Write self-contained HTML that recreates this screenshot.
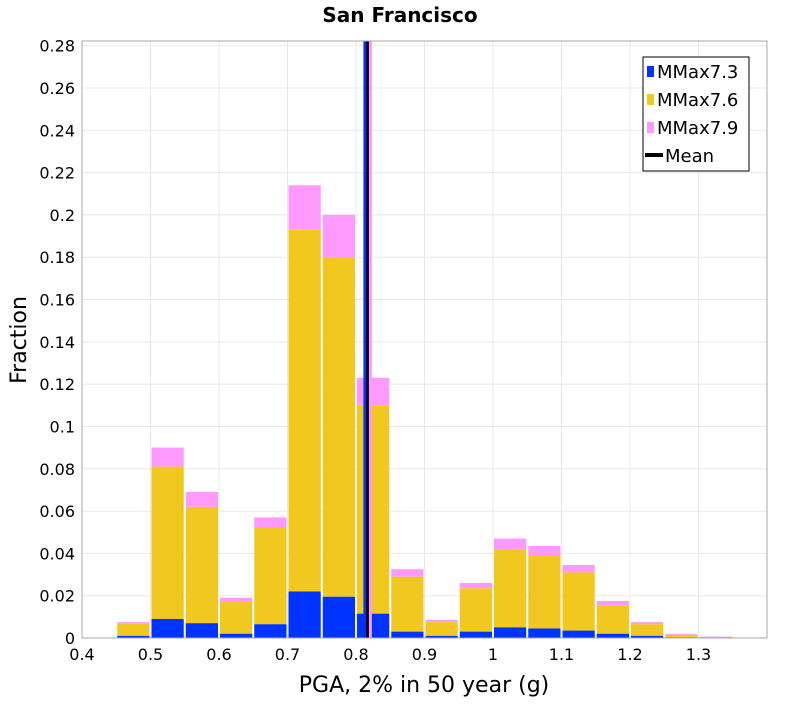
<!DOCTYPE html>
<html><head><meta charset="utf-8"><style>
body{margin:0;background:#fff;font-family:"DejaVu Sans","Liberation Sans",sans-serif;}
</style></head><body>
<svg id="chart" width="800" height="700" xmlns="http://www.w3.org/2000/svg">
<text x="400" y="22" text-anchor="middle" font-size="20" font-weight="bold" font-family="DejaVu Sans, Liberation Sans, sans-serif">San Francisco</text>
<g id="grid"></g><g id="bars"></g><g id="means"></g><g id="axes"></g>
<text x="26" y="340" transform="rotate(-90 26 340)" text-anchor="middle" font-size="22" font-family="DejaVu Sans, Liberation Sans, sans-serif">Fraction</text>
<text x="424" y="692" text-anchor="middle" font-size="22" font-family="DejaVu Sans, Liberation Sans, sans-serif">PGA, 2% in 50 year (g)</text>
<g>
<rect x="643" y="57" width="106" height="114" fill="#fff" stroke="#000" stroke-width="1"/>
<rect x="647" y="66" width="7" height="11" fill="#0033ff"/><text x="657" y="78" font-size="18" font-family="DejaVu Sans, Liberation Sans, sans-serif">MMax7.3</text>
<rect x="647" y="94" width="7" height="11" fill="#f0c820"/><text x="657" y="106" font-size="18" font-family="DejaVu Sans, Liberation Sans, sans-serif">MMax7.6</text>
<rect x="647" y="122" width="7" height="11" fill="#ff99ff"/><text x="657" y="134" font-size="18" font-family="DejaVu Sans, Liberation Sans, sans-serif">MMax7.9</text>
<rect x="645" y="153" width="18" height="4" fill="#000"/><text x="665" y="162" font-size="18" font-family="DejaVu Sans, Liberation Sans, sans-serif">Mean</text>
</g>
</svg>
<script>
const binStarts=[0.45,0.5,0.55,0.6,0.65,0.7,0.75,0.8,0.85,0.9,0.95,1.0,1.05,1.1,1.15,1.2,1.25,1.3];
const blueTop=[0.001,0.009,0.007,0.002,0.0065,0.022,0.0195,0.0115,0.003,0.001,0.003,0.005,0.0045,0.0035,0.002,0.001,0.0003,0.0002];
const yellowTop=[0.007,0.081,0.062,0.017,0.052,0.193,0.180,0.110,0.029,0.0075,0.0235,0.042,0.039,0.031,0.0155,0.0065,0.0015,0.0005];
const pinkTop=[0.0075,0.090,0.069,0.019,0.057,0.214,0.200,0.123,0.0325,0.0085,0.026,0.047,0.0435,0.0345,0.0175,0.0075,0.002,0.0007];
const meanValues=[0.813,0.817,0.821];
const xTicks=[0.4,0.5,0.6,0.7,0.8,0.9,1,1.1,1.2,1.3];
const yTicks=[0,0.02,0.04,0.06,0.08,0.1,0.12,0.14,0.16,0.18,0.2,0.22,0.24,0.26,0.28];
const binWidth=0.05;
const L=82,R=767,T=41,B=638,xMin=0.4,xMax=1.4,yMax=0.2822;
const X=v=>L+(v-xMin)/(xMax-xMin)*(R-L);
const Y=v=>B-v/yMax*(B-T);
const NS="http://www.w3.org/2000/svg";
function mk(tag,attrs,parent){const e=document.createElementNS(NS,tag);for(const k in attrs)e.setAttribute(k,attrs[k]);parent.appendChild(e);return e;}
const grid=document.getElementById('grid'),bars=document.getElementById('bars'),means=document.getElementById('means'),axes=document.getElementById('axes');
xTicks.forEach(t=>{const g=mk('line',{x1:X(t),x2:X(t),y1:T,y2:B,stroke:'#e8e8e8'},grid);


const tx=mk('text',{x:X(t),y:B+22,'text-anchor':'middle','font-size':16,'font-family':'DejaVu Sans, Liberation Sans, sans-serif'},axes);tx.textContent=String(t);

});
yTicks.forEach(t=>{const g=mk('line',{x1:L,x2:R,y1:Y(t),y2:Y(t),stroke:'#e8e8e8'},grid);


const tx=mk('text',{x:L-7,y:Y(t)+6,'text-anchor':'end','font-size':16,'font-family':'DejaVu Sans, Liberation Sans, sans-serif'},axes);tx.textContent=String(t);

});
binStarts.forEach((s,i)=>{const x0=X(s)+1,w=X(s+binWidth)-X(s)-2;
const p=mk('rect',{x:x0,y:Y(pinkTop[i]),width:w,height:Y(yellowTop[i])-Y(pinkTop[i]),fill:'#ff99ff'},bars);


const yb=mk('rect',{x:x0,y:Y(yellowTop[i]),width:w,height:Y(blueTop[i])-Y(yellowTop[i]),fill:'#f0c820'},bars);


const b=mk('rect',{x:x0,y:Y(blueTop[i]),width:w,height:B-Y(blueTop[i]),fill:'#0033ff'},bars);

});
const meanColors=['#0033ff','#000','#ff99ff'];
meanValues.forEach((m,i)=>{const l=mk('line',{x1:X(m),x2:X(m),y1:T,y2:B,stroke:meanColors[i],'stroke-width':3},means);

});
const fr=mk('rect',{x:L,y:T,width:R-L,height:B-T,fill:'none',stroke:'#aaa'},axes);


</script>
</body></html>
